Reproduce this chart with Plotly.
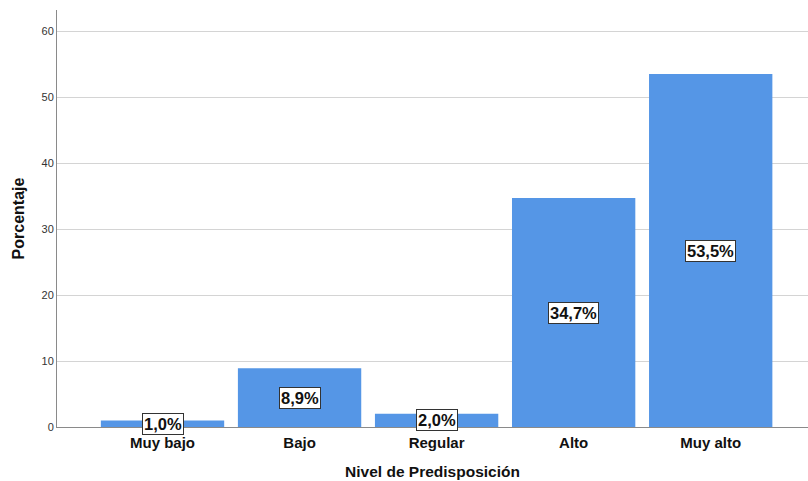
import plotly.graph_objects as go

categorias = ["Muy bajo", "Bajo", "Regular", "Alto", "Muy alto"]
porcentajes = [1.0, 8.9, 2.0, 34.7, 53.5]
etiquetas = ["1,0%", "8,9%", "2,0%", "34,7%", "53,5%"]
y_ticks = [0, 10, 20, 30, 40, 50, 60]

BAR_COLOR = "#5596e6"
FONT = "Liberation Sans, Arial, sans-serif"

fig = go.Figure()
fig.add_trace(go.Bar(
    x=categorias,
    y=porcentajes,
    marker=dict(color=BAR_COLOR, line=dict(width=0)),
    hoverinfo="skip",
))

# Value labels in boxed annotations at the middle of each bar
for cat, val, txt in zip(categorias, porcentajes, etiquetas):
    fig.add_annotation(
        x=cat, y=val / 2, text=f"<b>{txt}</b>",
        showarrow=False,
        font=dict(family=FONT, size=16.5, color="#111111"),
        bgcolor="white", bordercolor="#333333", borderwidth=1, borderpad=1,
    )

fig.update_layout(
    width=808, height=481,
    margin=dict(l=57, r=0, t=10, b=54),
    plot_bgcolor="white", paper_bgcolor="white",
    bargap=0.1,
    showlegend=False,
    font=dict(family=FONT),
)
fig.update_xaxes(
    range=[-0.77, 4.71],
    showgrid=False,
    showline=True, linecolor="#8a8a8a", linewidth=1,
    ticks="",
    ticklabelstandoff=2,
    tickfont=dict(family=FONT, size=15, color="#111111", weight="bold"),
    title=dict(text="Nivel de Predisposición",
               font=dict(family=FONT, size=15.5, color="#111111", weight="bold"), standoff=16),
)
fig.update_yaxes(
    range=[0, 63.2],
    tickvals=y_ticks,
    showgrid=True, gridcolor="#d4d4d4", gridwidth=1,
    showline=True, linecolor="#8a8a8a", linewidth=1,
    zeroline=False,
    ticks="",
    tickfont=dict(family=FONT, size=11, color="#333333"),
    title=dict(text="Porcentaje",
               font=dict(family=FONT, size=16, color="#111111", weight="bold"), standoff=12),
)

fig.write_html("out.html")
